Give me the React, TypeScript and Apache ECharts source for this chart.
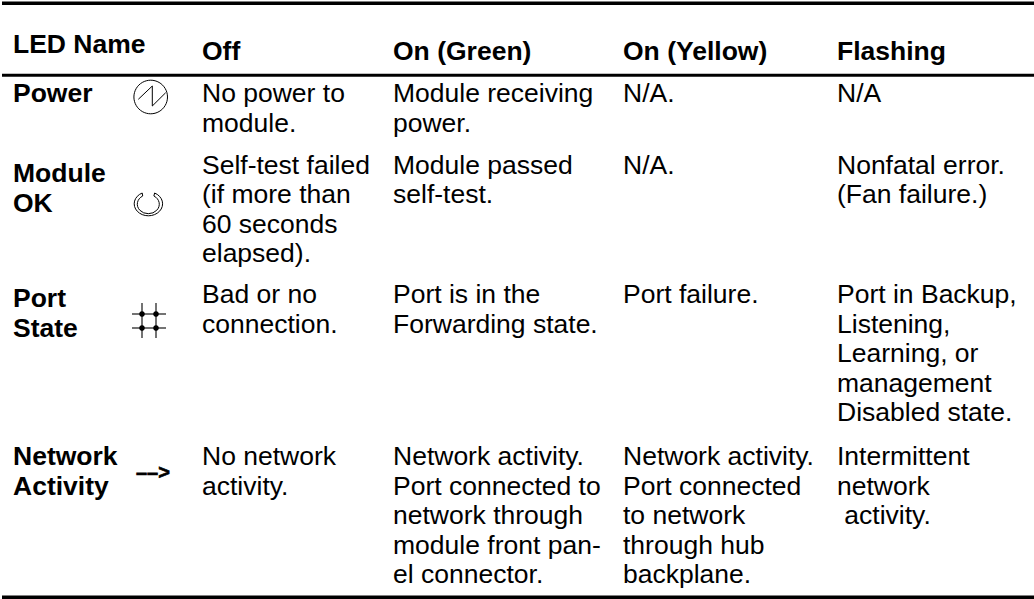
import React, { useEffect, useRef } from "react";
import * as echarts from "echarts";

const nameHeader = "LED Name";
const headers = ["Off", "On (Green)", "On (Yellow)", "Flashing"];
const names = [["Power"], ["Module", "OK"], ["Port", "State"], ["Network", "Activity"]];
const offText = [
  ["No power to", "module."],
  ["Self-test failed", "(if more than", "60 seconds", "elapsed)."],
  ["Bad or no", "connection."],
  ["No network", "activity."],
];
const greenText = [
  ["Module receiving", "power."],
  ["Module passed", "self-test."],
  ["Port is in the", "Forwarding state."],
  ["Network activity.", "Port connected to", "network through", "module front pan-", "el connector."],
];
const yellowText = [
  ["N/A."],
  ["N/A."],
  ["Port failure."],
  ["Network activity.", "Port connected", "to network", "through hub", "backplane."],
];
const flashText = [
  ["N/A"],
  ["Nonfatal error.", "(Fan failure.)"],
  ["Port in Backup,", "Listening,", "Learning, or", "management", "Disabled state."],
  ["Intermittent", "network", " activity."],
];

const FONT = "'Liberation Sans', Arial, Helvetica, sans-serif";
const COL_X = [202, 393, 623, 837];
const ROW_Y = [93, 164.6, 294.3, 456.3];
const NAME_Y = [93, 173, 298, 456.3];
const LINE = 29.5;
const SIZE = 26.5;

const moduleIcon =
  "M142.2 193 A14.2 12 0 1 0 154.6 193 M142.7 196 A11 9.5 0 1 0 153.9 196 M142.2 193 L142.7 196 M154.6 193 L153.9 196";
echarts.graphic.registerShape("moduleIcon", echarts.graphic.extendPath(moduleIcon, {}) as any);

function txt(x: number, y: number, text: string, bold: boolean, size = SIZE) {
  return {
    type: "text",
    style: {
      x,
      y,
      text,
      fontFamily: FONT,
      fontSize: size,
      fontWeight: bold ? "bold" : "normal",
      fill: "#000",
      textAlign: "left",
      textVerticalAlign: "middle",
    },
  };
}

function rule(y: number, w: number) {
  return {
    type: "line",
    shape: { x1: 2, y1: y, x2: 1034, y2: y },
    style: { stroke: "#000", lineWidth: w },
  };
}

export default function App() {
  const ref = useRef<HTMLDivElement>(null);
  useEffect(() => {
    if (!ref.current) return;
    document.body.style.margin = "0";
    const chart = echarts.init(ref.current, null, { renderer: "svg" });
    const els: any[] = [];
    els.push(rule(3.3, 3.4), rule(75.3, 3), rule(597.3, 3.4));
    els.push(txt(13, 44, nameHeader, true));
    headers.forEach((h, i) => els.push(txt(COL_X[i], 51.3, h, true)));
    names.forEach((lines, r) =>
      lines.forEach((l, j) => els.push(txt(13, NAME_Y[r] + j * LINE, l, true)))
    );
    [offText, greenText, yellowText, flashText].forEach((col, c) =>
      col.forEach((cell, r) =>
        cell.forEach((l, j) => els.push(txt(COL_X[c], ROW_Y[r] + j * LINE, l, false)))
      )
    );
    const thin = { stroke: "#000", lineWidth: 1, fill: "none" };
    els.push({ type: "circle", shape: { cx: 150.7, cy: 97, r: 16.8 }, style: thin });
    els.push({
      type: "polyline",
      shape: { points: [[138.3, 99.3], [152.3, 86], [152.3, 106], [165.7, 92.7]] },
      style: thin,
    });
    els.push({ type: "moduleIcon", style: thin });
    [142, 156].forEach((x) =>
      els.push({ type: "line", shape: { x1: x, y1: 303, x2: x, y2: 338 }, style: { stroke: "#444", lineWidth: 1.5 } })
    );
    [314, 328].forEach((y) =>
      els.push({ type: "line", shape: { x1: 132, y1: y, x2: 166, y2: y }, style: { stroke: "#444", lineWidth: 1.5 } })
    );
    [142, 156].forEach((x) =>
      [314, 328].forEach((y) =>
        els.push({ type: "circle", shape: { cx: x, cy: y, r: 2.8 }, style: { fill: "#000" } })
      )
    );
    const arrow: any = txt(136, 472, "––>", true, 20);
    arrow.style.stroke = "#000";
    arrow.style.lineWidth = 0.7;
    els.push(arrow);
    chart.setOption({ animation: false, graphic: { elements: els } });
    return () => chart.dispose();
  }, []);
  return <div ref={ref} style={{ position: "fixed", left: 0, top: 0, width: 1034, height: 599, background: "#fff" }} />;
}
